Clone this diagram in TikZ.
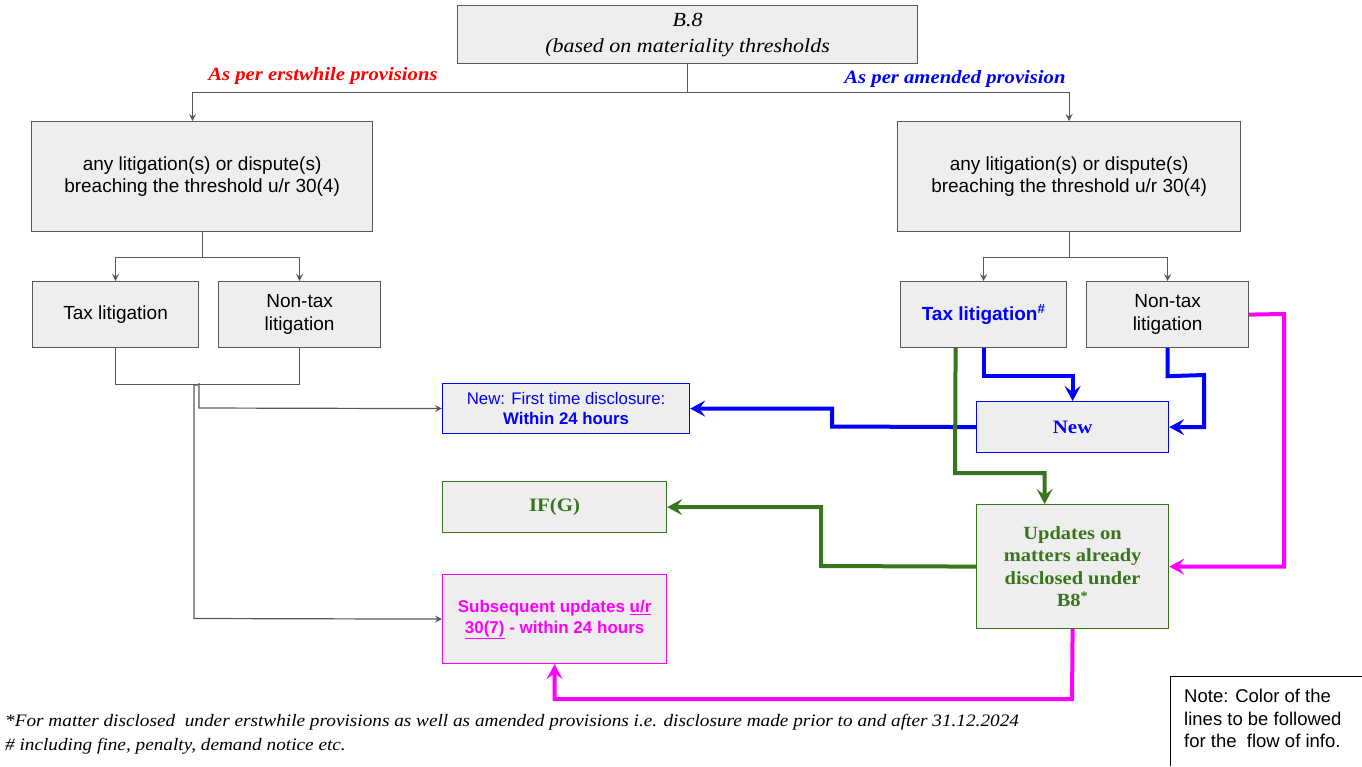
\documentclass[tikz,border=0pt]{standalone}
\usepackage{fontspec}
\setmainfont{Liberation Sans}
\newfontfamily\cambfont{Liberation Serif}[FakeStretch=1.1]
\usetikzlibrary{arrows.meta,calc}
\definecolor{boxfill}{HTML}{EEEEEE}
\definecolor{linegray}{HTML}{595959}
\definecolor{myblue}{HTML}{0000FF}
\definecolor{mygreen}{HTML}{38761D}
\definecolor{mymag}{HTML}{FF00FF}
\definecolor{myred}{HTML}{FF0000}
\tikzset{
  box/.style={draw=linegray, fill=boxfill, line width=1.2pt, anchor=north west, align=center, inner sep=2pt, font=\fontsize{19}{22.5}\selectfont},
  gline/.style={draw=linegray, line width=1.2pt},
  garrow/.style={gline, -{Stealth[length=7pt,width=7pt,inset=2.5pt]}},
  thick4/.style={line width=4pt, -{Stealth[length=15pt,width=16pt,inset=6pt]}},
  bluel/.style={thick4, draw=myblue},
  greenl/.style={thick4, draw=mygreen},
  magl/.style={thick4, draw=mymag},
}
\begin{document}
\begin{tikzpicture}[x=1pt,y=-1pt]
\useasboundingbox (0,0) rectangle (1362,766);
% top box
\node[box, minimum width=460, minimum height=58, font=\cambfont\itshape\fontsize{20}{26}\selectfont] (top) at (457,5) {B.8\\(based on materiality thresholds};
\node[font=\cambfont\bfseries\itshape\fontsize{18.8}{20}\selectfont, text=myred] (lblL) at (323,76) {As per erstwhile provisions};
\node[font=\cambfont\bfseries\itshape\fontsize{18.8}{20}\selectfont, text=myblue] (lblR) at (955,79) {As per amended provision};
% big boxes
\node[box, minimum width=341, minimum height=110] (L) at (31,121) {any litigation(s) or dispute(s)\\breaching the threshold u/r 30(4)};
\node[box, minimum width=343, minimum height=110] (R) at (897,121) {any litigation(s) or dispute(s)\\breaching the threshold u/r 30(4)};
% small boxes
\node[box, minimum width=166, minimum height=66] (LT) at (32,281) {Tax litigation};
\node[box, minimum width=162, minimum height=66] (LN) at (218,281) {Non-tax\\litigation};
\node[box, minimum width=166, minimum height=66, text=myblue, font=\bfseries\fontsize{19}{22}\selectfont] (RT) at (900,281) {Tax litigation\textsuperscript{\#}};
\node[box, minimum width=162, minimum height=66] (RN) at (1086,281) {Non-tax\\litigation};
% result boxes
\node[box, draw=myblue, minimum width=247, minimum height=50, text=myblue, font=\fontsize{16.8}{20}\selectfont] (FT) at (442,383) {New: First time disclosure:\\\textbf{Within 24 hours}};
\node[box, draw=mygreen, minimum width=224, minimum height=51, text=mygreen, font=\cambfont\bfseries\fontsize{19}{22}\selectfont] (IF) at (442,481) {IF(G)};
\node[box, draw=mymag, minimum width=224, minimum height=89, text=mymag, font=\bfseries\fontsize{17}{21}\selectfont] (SU) at (442,574) {Subsequent updates \underline{u/r}\\\underline{30(7)} - within 24 hours};
\node[box, draw=myblue, minimum width=192, minimum height=51, text=myblue, font=\cambfont\bfseries\fontsize{19}{22}\selectfont] (NW) at (976,401) {New};
\node[box, draw=mygreen, minimum width=192, minimum height=124, text=mygreen, font=\cambfont\bfseries\fontsize{18.6}{22.5}\selectfont] (UP) at (976,504) {Updates on\\matters already\\disclosed under\\B8\textsuperscript{*}};
% gray connectors
\coordinate (tj) at ($(top.south)+(0,28)$);
\draw[garrow] (top.south) -- (tj) -| ($(L.north)+(-9.5,0)$);
\draw[garrow] (tj) -| (R.north);
\coordinate (lj) at ($(L.south)+(0,25)$);
\draw[garrow] (L.south) -- (lj) -| (LT.north);
\draw[garrow] (lj) -| (LN.north);
\coordinate (rj) at ($(R.south)+(0,25)$);
\draw[garrow] (R.south) -- (rj) -| (RT.north);
\draw[garrow] (rj) -| (RN.north);
\draw[gline] (LT.south) -- ++(0,36) -| (LN.south);
\draw[garrow] (199,383) -- (199,408) -- (FT.west);
\draw[garrow] (198,385) -- (194,385) -- (194,618.5) -- (SU.west);
% blue
\draw[bluel] (RT.south) -- ++(0,28) -| (NW.north);
\draw[bluel] (RN.south) -- ++(0,28) -- (1204,375) |- (NW.east);
\draw[bluel] (NW.west) -- (832,426.5) |- (FT.east);
% green
\draw[greenl] ($(RT.south)+(-28,0)$) -- (955,473) -| ($(UP.north)+(-28,0)$);
\draw[greenl] (UP.west) -- (821,566) |- (IF.east);
% magenta
\draw[magl] (RN.east) -- (1284,314) |- (UP.east);
\draw[magl] (UP.south) -- (1072,699) -| (SU.south);
% footnotes
\node[anchor=west, font=\cambfont\itshape\fontsize{17.5}{20}\selectfont, inner sep=0pt] (fn1) at (5,722) {*For matter disclosed\ \ under erstwhile provisions as well as amended provisions i.e. disclosure made prior to and after 31.12.2024};
\node[anchor=west, font=\cambfont\itshape\fontsize{17.5}{20}\selectfont, inner sep=0pt] (fn2) at (5,746) {\# including fine, penalty, demand notice etc.};
% note
\draw[draw=black, line width=1pt] (1170,766) -- (1170,676) -- (1362,676);
\node[anchor=north west, align=left, font=\fontsize{18.5}{22.5}\selectfont, inner sep=0pt] (note) at (1184,689) {Note: Color of the\\lines to be followed\\for the\ \ flow of info.};
\end{tikzpicture}
\end{document}
